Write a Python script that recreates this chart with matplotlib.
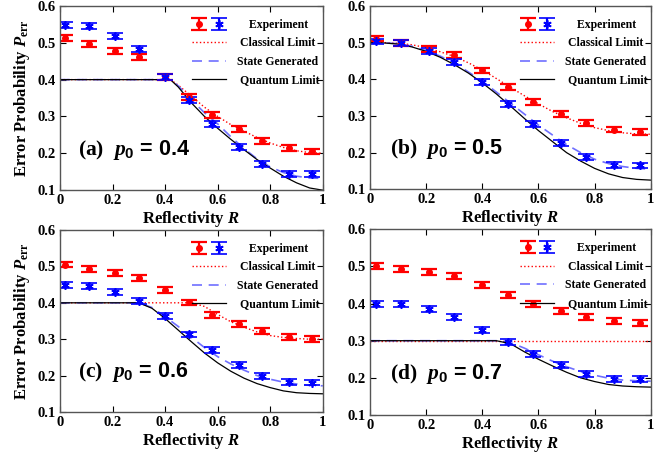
import matplotlib
matplotlib.use("Agg")
import matplotlib.pyplot as plt
from matplotlib.legend_handler import HandlerTuple

plt.rcParams['font.family'] = ['Liberation Serif', 'DejaVu Serif']
plt.rcParams['font.weight'] = 'bold'
plt.rcParams['mathtext.fontset'] = 'custom'
plt.rcParams['mathtext.rm'] = 'Liberation Serif:bold'
plt.rcParams['mathtext.it'] = 'Liberation Serif:italic:bold'
plt.rcParams['mathtext.bf'] = 'Liberation Serif:bold'
plt.rcParams['mathtext.sf'] = 'Liberation Sans:bold'

# measured points (same reflectivities in every panel)
R_exp = [0.02, 0.11, 0.21, 0.30, 0.40, 0.49, 0.58, 0.68, 0.77, 0.87, 0.96]
err = 0.008

red_a = [0.512, 0.496, 0.478, 0.461, 0.408, 0.352, 0.303, 0.265, 0.234, 0.215, 0.205]
blue_a = [0.549, 0.546, 0.519, 0.483, 0.408, 0.344, 0.279, 0.217, 0.170, 0.145, 0.145]
red_b = [0.511, 0.499, 0.482, 0.466, 0.424, 0.379, 0.339, 0.306, 0.280, 0.263, 0.257]
blue_b = [0.503, 0.499, 0.478, 0.447, 0.392, 0.332, 0.277, 0.227, 0.188, 0.167, 0.165]
red_c = [0.505, 0.493, 0.482, 0.469, 0.436, 0.401, 0.366, 0.341, 0.322, 0.306, 0.301]
blue_c = [0.448, 0.446, 0.430, 0.404, 0.364, 0.313, 0.270, 0.230, 0.200, 0.182, 0.181]
red_d = [0.502, 0.493, 0.485, 0.475, 0.449, 0.423, 0.398, 0.379, 0.364, 0.353, 0.348]
blue_d = [0.399, 0.398, 0.385, 0.365, 0.328, 0.297, 0.264, 0.234, 0.210, 0.198, 0.198]

# theory curves
R_th = [0.0, 0.05, 0.10, 0.15, 0.20, 0.25, 0.30, 0.35, 0.40, 0.42, 0.45, 0.50,
        0.55, 0.60, 0.65, 0.70, 0.75, 0.80, 0.85, 0.90, 0.95, 1.0]

cl_a = [0.4, 0.4, 0.4, 0.4, 0.4, 0.4, 0.4, 0.4, 0.4, 0.4, 0.385, 0.355,
        0.325, 0.300, 0.278, 0.260, 0.243, 0.228, 0.216, 0.207, 0.202, 0.200]
sg_a = [0.4, 0.4, 0.4, 0.4, 0.4, 0.4, 0.4, 0.4, 0.4, 0.4, 0.383, 0.345,
        0.310, 0.280, 0.245, 0.213, 0.185, 0.163, 0.148, 0.138, 0.133, 0.132]
qu_a = [0.4, 0.4, 0.4, 0.4, 0.4, 0.4, 0.4, 0.4, 0.4, 0.4, 0.380, 0.337,
        0.300, 0.268, 0.238, 0.210, 0.183, 0.160, 0.138, 0.120, 0.106, 0.100]

cl_b = [0.5, 0.500, 0.498, 0.494, 0.486, 0.475, 0.462, 0.445, 0.425, 0.416, 0.402, 0.378,
        0.355, 0.333, 0.312, 0.295, 0.280, 0.268, 0.260, 0.254, 0.251, 0.250]
sg_b = [0.5, 0.499, 0.497, 0.490, 0.478, 0.463, 0.445, 0.420, 0.395, 0.383, 0.365, 0.335,
        0.305, 0.275, 0.248, 0.222, 0.200, 0.182, 0.170, 0.162, 0.157, 0.155]
qu_b = [0.5, 0.499, 0.496, 0.488, 0.476, 0.460, 0.440, 0.417, 0.390, 0.378, 0.360, 0.327,
        0.293, 0.260, 0.230, 0.200, 0.177, 0.157, 0.142, 0.132, 0.127, 0.125]

cl_c = [0.4, 0.4, 0.4, 0.4, 0.4, 0.4, 0.4, 0.4, 0.4, 0.4, 0.4, 0.4,
        0.390, 0.368, 0.348, 0.333, 0.320, 0.310, 0.305, 0.302, 0.300, 0.300]
sg_c = [0.4, 0.4, 0.4, 0.4, 0.4, 0.4, 0.4, 0.387, 0.362, 0.351, 0.335, 0.305,
        0.277, 0.252, 0.232, 0.215, 0.200, 0.190, 0.182, 0.177, 0.173, 0.172]
qu_c = [0.4, 0.4, 0.4, 0.4, 0.4, 0.4, 0.4, 0.385, 0.357, 0.344, 0.325, 0.293,
        0.262, 0.235, 0.212, 0.193, 0.178, 0.167, 0.158, 0.153, 0.151, 0.150]

cl_d = [0.3] * 22
sg_d = [0.3, 0.3, 0.3, 0.3, 0.3, 0.3, 0.3, 0.3, 0.3, 0.3, 0.3, 0.295,
        0.280, 0.262, 0.245, 0.230, 0.217, 0.207, 0.199, 0.194, 0.192, 0.191]
qu_d = [0.3, 0.3, 0.3, 0.3, 0.3, 0.3, 0.3, 0.3, 0.3, 0.3, 0.3, 0.292,
        0.270, 0.250, 0.232, 0.215, 0.200, 0.190, 0.182, 0.178, 0.176, 0.175]

tags = ['(a)', '(b)', '(c)', '(d)']
p0_vals = ['0.4', '0.5', '0.6', '0.7']
# leading spaces roughly centre the legend labels as in the original
legend_labels = ['    Experiment', ' Classical Limit', 'State Generated', ' Quantum Limit']


def draw_panel(ax, red, blue, cl, sg, qu, tag, p0, ylabel):
    ax.plot(R_th, cl, ls=':', color='red', lw=1.0)
    ax.plot(R_th, sg, ls=(0, (6, 4)), color='#6f6fff', lw=1.2)
    ax.plot(R_th, qu, ls='-', color='black', lw=0.9)
    e1 = ax.errorbar(R_exp, red, yerr=err, fmt='o', color='red', ms=4,
                     capsize=6, capthick=1.6, elinewidth=1.6)
    e2 = ax.errorbar(R_exp, blue, yerr=err, marker=(6, 2, 0), ls='none',
                     color='blue', ms=6, mew=1.2, capsize=6, capthick=1.6,
                     elinewidth=1.6)

    ax.set_xlim(0, 1)
    ax.set_ylim(0.1, 0.6)
    ax.set_xticks([0, 0.2, 0.4, 0.6, 0.8, 1])
    ax.set_xticklabels(['0', '0.2', '0.4', '0.6', '0.8', '1'])
    ax.set_yticks([0.1, 0.2, 0.3, 0.4, 0.5, 0.6])
    ax.tick_params(direction='in', top=True, right=True, length=4,
                   labelsize=10.5, pad=3)
    for lab in ax.get_xticklabels() + ax.get_yticklabels():
        lab.set_fontweight('bold')
    for sp in ax.spines.values():
        sp.set_color('#555555')
        sp.set_linewidth(1.0)

    ax.set_xlabel(r'Reflectivity $R$', fontsize=12, fontweight='bold', labelpad=1)
    if ylabel:
        ax.set_ylabel(r'Error Probability $P_{\mathrm{err}}$', fontsize=12,
                      fontweight='bold', labelpad=4)

    ax.text(0.07, 0.22, tag + r'$\ \ p_{\mathsf{0}}\mathsf{\,=\,' + p0 + '}$',
            transform=ax.transAxes, fontsize=15.5, fontweight='bold', va='center')

    # legend dummies for the lines
    l1, = ax.plot([], [], ls=':', color='red', lw=1.0)
    l2, = ax.plot([], [], ls=(0, (6, 4)), color='#6f6fff', lw=1.2)
    l3, = ax.plot([], [], ls='-', color='black', lw=0.9)
    ax.legend([(e1, e2), l1, l2, l3], legend_labels,
              handler_map={tuple: HandlerTuple(ndivide=None, pad=0.4)},
              loc='upper right', bbox_to_anchor=(1.018, 0.975),
              frameon=False, handlelength=2.9,
              handletextpad=0.9, labelspacing=0.55, borderaxespad=0.3,
              prop={'weight': 'bold', 'size': 8.5})


fig = plt.figure(figsize=(6.62, 4.55), dpi=100)
ax_a = fig.add_axes([0.0906, 0.582, 0.397, 0.405])
ax_b = fig.add_axes([0.559, 0.584, 0.424, 0.403])
ax_c = fig.add_axes([0.0906, 0.0945, 0.397, 0.400])
ax_d = fig.add_axes([0.559, 0.088, 0.424, 0.408])

draw_panel(ax_a, red_a, blue_a, cl_a, sg_a, qu_a, tags[0], p0_vals[0], True)
draw_panel(ax_b, red_b, blue_b, cl_b, sg_b, qu_b, tags[1], p0_vals[1], False)
draw_panel(ax_c, red_c, blue_c, cl_c, sg_c, qu_c, tags[2], p0_vals[2], True)
draw_panel(ax_d, red_d, blue_d, cl_d, sg_d, qu_d, tags[3], p0_vals[3], False)

fig.savefig('out.png', dpi=100)
